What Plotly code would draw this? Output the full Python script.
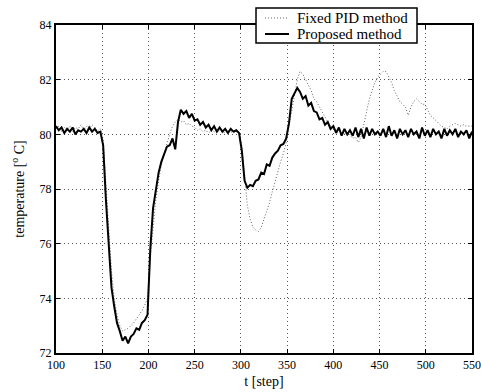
import plotly.graph_objects as go

T_START = 100
T_STEP = 3

proposed = [
    80.3, 80.15, 80.25, 80.05, 80.2, 80.1, 80.25, 80.0, 80.15, 80.1,      # 100-127
    80.2, 80.05, 80.25, 80.1, 80.2, 80.05, 80.1, 79.6, 77.6, 75.8,        # 130-157
    74.4, 73.7, 73.1, 72.8, 72.45, 72.6, 72.35, 72.6, 72.7, 72.9,         # 160-187
    72.85, 73.1, 73.2, 73.4, 75.8, 77.3, 77.9, 78.6, 79.0, 79.3,          # 190-217
    79.55, 79.6, 79.85, 79.45, 80.45, 80.9, 80.75, 80.85, 80.6, 80.75,    # 220-247
    80.5, 80.55, 80.35, 80.45, 80.25, 80.35, 80.15, 80.3, 80.1, 80.25,    # 250-277
    80.1, 80.2, 80.05, 80.2, 80.1, 80.15, 80.05, 79.4, 78.3, 78.05,       # 280-307
    78.15, 78.1, 78.3, 78.35, 78.6, 78.55, 78.9, 78.85, 79.15, 79.3,      # 310-337
    79.4, 79.6, 79.65, 79.85, 80.4, 81.3, 81.5, 81.7, 81.55, 81.3,        # 340-367
    81.4, 81.05, 81.15, 80.85, 80.8, 80.55, 80.6, 80.35, 80.45, 80.2,     # 370-397
    80.3, 80.05, 80.25, 79.95, 80.2, 80.0, 80.15, 79.95, 80.25, 79.9,     # 400-427
    80.2, 79.85, 80.25, 79.95, 80.2, 80.0, 80.1, 79.95, 80.2, 79.9,       # 430-457
    80.3, 79.95, 80.15, 79.85, 80.2, 80.0, 80.15, 79.9, 80.2, 80.0,       # 460-487
    80.1, 79.85, 80.25, 79.95, 80.15, 79.9, 80.2, 80.0, 80.1, 79.85,      # 490-517
    80.2, 79.95, 80.15, 80.0, 80.2, 79.9, 80.1, 80.0, 80.15, 79.85,       # 520-547
    80.1,                                                                 # 550
]

fixed_pid = [
    80.2, 80.3, 80.1, 80.25, 80.15, 80.3, 80.1, 80.25, 80.2, 80.35,       # 100-127
    80.15, 80.3, 80.2, 80.35, 80.25, 80.1, 80.2, 79.8, 78.2, 76.4,        # 130-157
    75.0, 74.0, 73.4, 73.0, 72.8, 72.85, 72.9, 73.0, 73.1, 73.25,         # 160-187
    73.4, 73.55, 73.75, 74.0, 75.5, 76.6, 77.6, 78.3, 78.9, 79.3,         # 190-217
    79.7, 80.0, 80.3, 80.45, 80.55, 80.45, 80.5, 80.35, 80.4, 80.3,       # 220-247
    80.25, 80.15, 80.2, 80.1, 80.15, 80.05, 80.15, 80.1, 80.05, 80.15,    # 250-277
    80.1, 80.05, 80.15, 80.1, 80.05, 80.1, 80.05, 79.6, 78.4, 77.4,       # 280-307
    76.9, 76.6, 76.5, 76.45, 76.6, 76.9, 77.2, 77.5, 77.9, 78.3,          # 310-337
    78.6, 79.0, 79.3, 79.7, 80.3, 80.9, 81.5, 82.0, 82.3, 82.2,           # 340-367
    82.0, 81.8, 81.6, 81.3, 81.2, 81.0, 80.8, 80.6, 80.45, 80.3,          # 370-397
    80.2, 80.1, 80.15, 80.0, 80.05, 79.95, 80.0, 79.85, 79.9, 79.7,       # 400-427
    79.9, 80.4, 80.9, 81.3, 81.6, 81.9, 82.1, 82.2, 82.3, 82.3,           # 430-457
    82.1, 81.9, 81.6, 81.4, 81.2, 81.1, 81.0, 80.7, 81.0, 81.2,           # 460-487
    81.3, 81.2, 81.1, 81.1, 80.9, 80.7, 80.6, 80.5, 80.4, 80.3,           # 490-517
    80.25, 80.2, 80.3, 80.35, 80.4, 80.35, 80.3, 80.35, 80.3, 80.3,       # 520-547
    80.3,                                                                 # 550
]

series_names = ["Fixed PID method", "Proposed method"]

t_fixed = [T_START + T_STEP * i for i in range(len(fixed_pid))]
t_prop = [T_START + T_STEP * i for i in range(len(proposed))]

x_ticks = [100, 150, 200, 250, 300, 350, 400, 450, 500, 550]
y_ticks = [72, 74, 76, 78, 80, 82, 84]

FONT = "Liberation Serif, Times New Roman, serif"
FIXED_STYLE = dict(color="#666666", width=1, dash="1px,2px")
PROP_STYLE = dict(color="black", width=2)

fig = go.Figure()
fig.add_trace(go.Scatter(x=t_fixed, y=fixed_pid, mode="lines",
                         name=series_names[0], line=FIXED_STYLE))
fig.add_trace(go.Scatter(x=t_prop, y=proposed, mode="lines",
                         name=series_names[1], line=PROP_STYLE))

axis_common = dict(
    showline=True, linecolor="black", linewidth=2, mirror="ticks",
    ticks="inside", ticklen=4, tickcolor="black", tickwidth=1,
    showgrid=True, gridcolor="#555555", gridwidth=1, griddash="1px,3px",
    zeroline=False, automargin=False,
    tickfont=dict(family=FONT, size=12, color="black"),
)

# Hand-made legend box (paper coordinates) to match the compact original
LEG_X0, LEG_X1, LEG_Y0, LEG_Y1 = 0.4808, 0.8678, 0.9451, 1.0518
ROW_Y = [1.0213, 0.9726]
SAMPLE_X = [0.5024, 0.5601]
TEXT_X = 0.5745

shapes = [dict(type="rect", xref="paper", yref="paper",
               x0=LEG_X0, x1=LEG_X1, y0=LEG_Y0, y1=LEG_Y1,
               line=dict(color="black", width=1.5), fillcolor="white", layer="above")]
annotations = []
for name, style, yy in zip(series_names, [FIXED_STYLE, PROP_STYLE], ROW_Y):
    shapes.append(dict(type="line", xref="paper", yref="paper",
                       x0=SAMPLE_X[0], x1=SAMPLE_X[1], y0=yy, y1=yy,
                       line=style, layer="above"))
    annotations.append(dict(xref="paper", yref="paper", x=TEXT_X, y=yy,
                            xanchor="left", yanchor="middle", showarrow=False,
                            text=name, font=dict(family=FONT, size=15, color="black")))

fig.update_layout(
    width=481, height=392,
    margin=dict(l=56, r=9, t=25, b=39),
    paper_bgcolor="white", plot_bgcolor="white",
    font=dict(family=FONT, size=12, color="black"),
    xaxis=dict(range=[100, 550], tickvals=x_ticks, ticklabeloverflow="allow",
               title=dict(text="t [step]", font=dict(family=FONT, size=14), standoff=5),
               **axis_common),
    yaxis=dict(range=[72, 84], tickvals=y_ticks,
               title=dict(text="temperature [<sup>o</sup> C]", font=dict(family=FONT, size=14), standoff=12),
               **axis_common),
    showlegend=False,
    shapes=shapes,
    annotations=annotations,
)

fig.write_html("out.html")
